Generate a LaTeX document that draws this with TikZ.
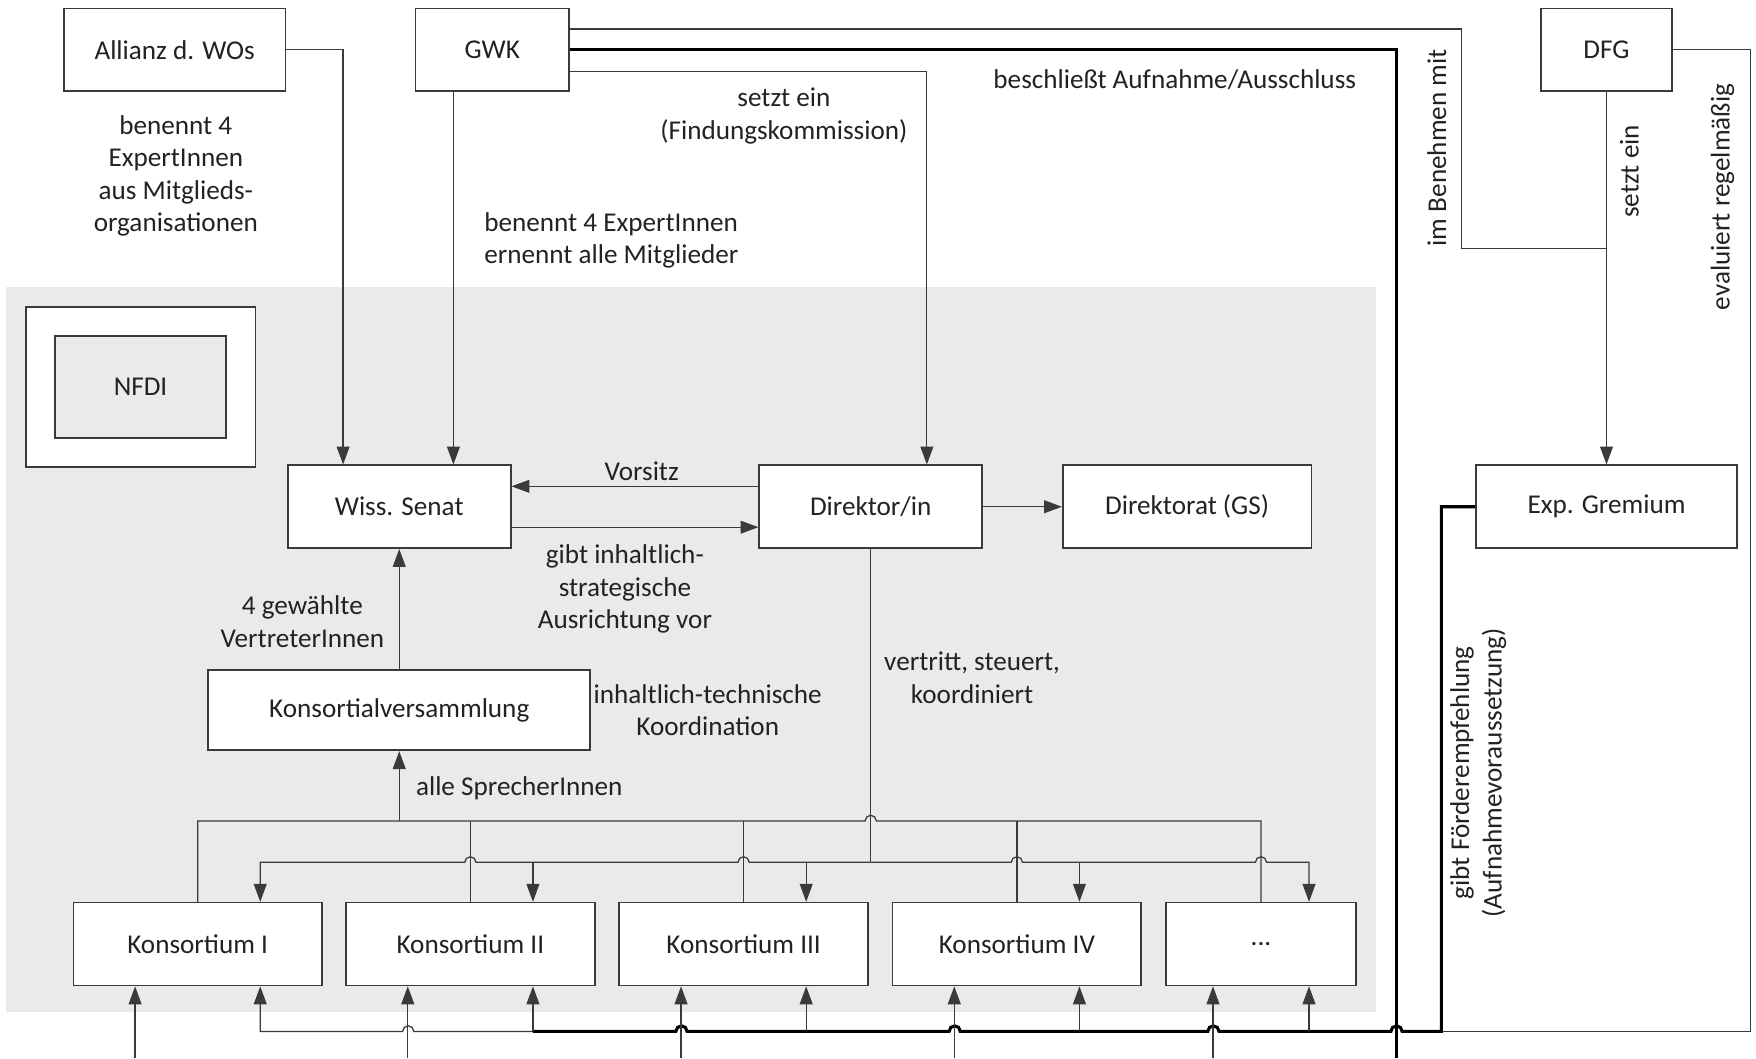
\documentclass[tikz,border=0pt]{standalone}
\usepackage{fontspec}
\setmainfont{Carlito}
\usetikzlibrary{arrows.meta,calc}
\definecolor{bggray}{HTML}{EAEAEA}
\definecolor{linegray}{HTML}{3A3A3A}
\definecolor{txtgray}{HTML}{222222}

\begin{document}
\begin{tikzpicture}[x=0.4pt,y=-0.4pt,
  font=\fontsize{9.7}{11.6}\selectfont, text=txtgray,
  box/.style={draw=linegray, line width=0.6pt, fill=white, minimum height=29.6pt, inner sep=0pt},
  lbl/.style={align=center, inner sep=0pt},
  conn/.style={draw=linegray, line width=0.45pt},
  arr/.style={conn, -{Triangle[length=6.4pt,width=4.6pt]}},
  strong/.style={draw=black, line width=1.1pt}]
\useasboundingbox (0,0) rectangle (1568,945);
% grey NFDI area
\fill[bggray] (5,256) rectangle (1229,904);

% boxes
\node[box, minimum width=79.2pt] (all) at (156,44.5) {Allianz d. WOs};
\node[box, minimum width=54.8pt] (gwk) at (439.5,44.5) {GWK};
\node[box, minimum width=46.8pt] (dfg) at (1434.5,44.5) {DFG};
\node[box, minimum width=82pt, minimum height=57.2pt] (nfdibox) at (125.5,345.5) {};
\node[box, fill=bggray, minimum width=61.2pt, minimum height=36.4pt] (nfdi) at (125.5,345.5) {NFDI};
\node[box, minimum width=79.6pt] (sen) at (356.5,452.5) {Wiss. Senat};
\node[box, minimum width=79.6pt] (dir) at (777.5,452.5) {Direktor/in};
\node[box, minimum width=88.8pt] (gs) at (1060,452.5) {Direktorat (GS)};
\node[box, minimum width=93.2pt] (eg) at (1434.5,452.5) {Exp. Gremium};
\node[box, minimum width=136.4pt, minimum height=28.8pt] (kv) at (356.5,634) {Konsortialversammlung};
\foreach \i/\x/\rom in {1/176.5/I, 2/420/II, 3/664/III, 4/908/IV}
  \node[box, minimum width=88.8pt] (k\i) at (\x,843) {Konsortium \rom};
\node[box, minimum width=68pt] (k5) at (1126,843) {...};

% docking points
\coordinate (sa) at ($(sen.north west)!.25!(sen.north east)$);
\coordinate (da) at ($(dir.north west)!.75!(dir.north east)$);
\coordinate (ga) at ($(gwk.south west)!.25!(gwk.south east)$);
\foreach \i in {1,...,5} {
  \coordinate (t\i) at ($(k\i.north west)!.75!(k\i.north east)$);
  \coordinate (b\i) at ($(k\i.south west)!.25!(k\i.south east)$);
  \coordinate (c\i) at ($(k\i.south west)!.75!(k\i.south east)$);
}

% top connectors
\draw[arr] (all.east) -| (sa);
\draw[arr] (ga) -- (ga |- sen.north);
\draw[arr] (gwk.east |- 0,64) -| (da);
\draw[conn] (gwk.east |- 0,26) -| (1305,222) -- (dfg.south |- 0,222);
\draw[strong] (gwk.east) -| (1247,945);
\draw[arr] (dfg.south) -- (eg.north);
\draw[conn] (dfg.east) -| (1563,921) -- (1287,921);

% inside NFDI
\draw[arr] ([yshift=7.3pt]dir.west) -- ([yshift=7.3pt]sen.east);
\draw[arr] ([yshift=-7.3pt]sen.east) -- ([yshift=-7.3pt]dir.west);
\draw[arr] (dir.east) -- (gs.west);
\draw[arr] (kv.north) -- (sen.south);

% consortia up to the assembly
\draw[conn] (k1.north) |- (772.5,733) arc(180:360:5) -- (1126,733) -- (k5.north);
\foreach \i in {2,3,4}
  \draw[conn] (k\i.north) -- (k\i.north |- 0,733);
\draw[arr] (kv.south |- 0,733) -- (kv.south);

% director down to consortia
\draw[conn] (dir.south) -- (777.5,770);
\draw[arr] (777.5,770) -- (669,770) arc(0:-180:5) -- (425,770) arc(0:-180:5) -| (t1);
\draw[arr] (777.5,770) -- (903,770) arc(180:360:5) -- (1121,770) arc(180:360:5) -| (t5);
\foreach \i in {2,3,4}
  \draw[arr] (t\i |- 0,770) -- (t\i);

% recommendation line from the expert board
\draw[strong] (c2 |- 0,921) -- (603.5,921) arc(180:360:5) -- (847.5,921) arc(180:360:5)
  -- (1078.5,921) arc(180:360:5) -- (1242,921) arc(180:360:5) -| (1287,452.5) -- (eg.west);
\draw[arr] (c2 |- 0,921) -- (369.5,921) arc(0:-180:5) -| (c1);
\foreach \i in {2,...,5}
  \draw[arr] (c\i |- 0,921) -- (c\i);
\foreach \i in {1,...,5}
  \draw[arr] (b\i |- 0,945) -- (b\i);

% labels
\node[lbl] (lall) at (157,157) {benennt 4\\ExpertInnen\\aus Mitglieds-\\organisationen};
\node[lbl, anchor=west, align=left] (lgwk) at (432,214.5) {benennt 4 ExpertInnen\\ernennt alle Mitglieder};
\node[lbl] (lfind) at (700,103.5) {setzt ein\\(Findungskommission)};
\node[lbl] (lbes) at (1049,71) {beschließt Aufnahme/Ausschluss};
\node[lbl, rotate=90] (lben) at (1283,132) {im Benehmen mit};
\node[lbl, rotate=90] (lsetzt) at (1455,153) {setzt ein};
\node[lbl, rotate=90] (leval) at (1538,176) {evaluiert regelmäßig};
\node[lbl, rotate=90] (lfoerd) at (1320,690) {gibt Förderempfehlung\\(Aufnahmevoraussetzung)};
\node[lbl] (lvors) at (573,421) {Vorsitz};
\node[lbl] (lstrat) at (558,526) {gibt inhaltlich-\\strategische\\Ausrichtung vor};
\node[lbl] (lvert) at (270,555) {4 gewählte\\VertreterInnen};
\node[lbl] (lkoord) at (632,634) {inhaltlich-technische\\Koordination};
\node[lbl, anchor=west] (lspr) at (371,704) {alle SprecherInnen};
\node[lbl] (lsteu) at (868,605) {vertritt, steuert,\\koordiniert};
\end{tikzpicture}
\end{document}
